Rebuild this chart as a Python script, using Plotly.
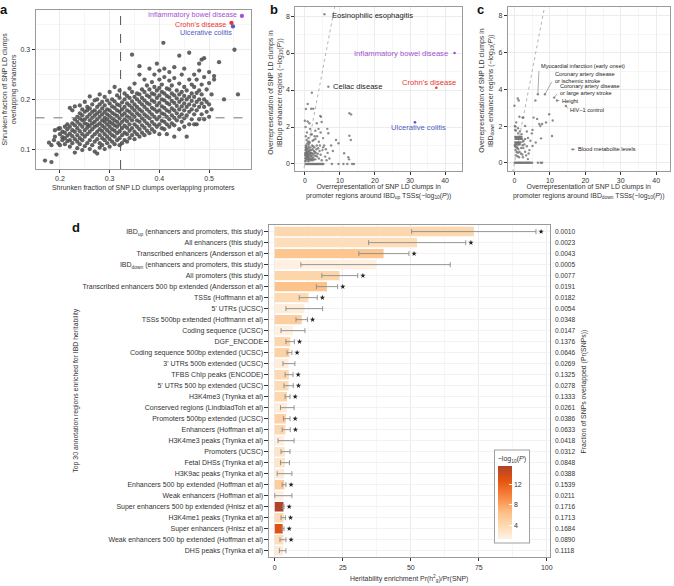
import plotly.graph_objects as go

# -----------------------------------
# DATA
# -----------------------------------

# panel a: shrunken fraction overlapping promoters (key) -> enhancers (values)
a_columns = {
    0.170: [0.077], 0.178: [0.113], 0.183: [0.074, 0.108], 0.188: [0.118],
    0.190: [0.125, 0.138], 0.193: [0.089], 0.197: [0.112, 0.141],
    0.200: [0.108, 0.130, 0.142], 0.205: [0.118, 0.135, 0.124],
    0.210: [0.110, 0.145, 0.122, 0.133], 0.215: [0.127, 0.140, 0.116, 0.150],
    0.220: [0.105, 0.118, 0.131, 0.145, 0.183], 0.225: [0.112, 0.126, 0.138, 0.152, 0.178],
    0.230: [0.093, 0.120, 0.135, 0.148, 0.160, 0.186], 0.235: [0.102, 0.115, 0.128, 0.142, 0.155, 0.165],
    0.240: [0.110, 0.122, 0.136, 0.150, 0.162, 0.172, 0.188],
    0.245: [0.098, 0.118, 0.130, 0.145, 0.158, 0.168, 0.180],
    0.250: [0.106, 0.125, 0.138, 0.152, 0.160, 0.175, 0.195],
    0.255: [0.112, 0.130, 0.143, 0.150, 0.165, 0.178, 0.185],
    0.260: [0.100, 0.118, 0.135, 0.147, 0.158, 0.170, 0.182, 0.206],
    0.265: [0.108, 0.125, 0.140, 0.152, 0.163, 0.175, 0.190],
    0.270: [0.095, 0.115, 0.130, 0.145, 0.155, 0.168, 0.178, 0.198],
    0.275: [0.091, 0.120, 0.135, 0.148, 0.160, 0.172, 0.185, 0.200],
    0.280: [0.103, 0.112, 0.128, 0.140, 0.152, 0.165, 0.176, 0.190, 0.210],
    0.285: [0.108, 0.122, 0.136, 0.147, 0.158, 0.170, 0.182, 0.195],
    0.290: [0.100, 0.118, 0.130, 0.143, 0.155, 0.163, 0.175, 0.188, 0.205],
    0.295: [0.112, 0.125, 0.138, 0.150, 0.160, 0.170, 0.180, 0.198],
    0.300: [0.105, 0.120, 0.133, 0.145, 0.155, 0.166, 0.178, 0.192, 0.215],
    0.305: [0.115, 0.128, 0.140, 0.152, 0.162, 0.173, 0.186, 0.200],
    0.310: [0.110, 0.125, 0.137, 0.148, 0.158, 0.170, 0.183, 0.196, 0.225],
    0.315: [0.118, 0.132, 0.145, 0.155, 0.167, 0.178, 0.190, 0.208],
    0.320: [0.108, 0.122, 0.136, 0.150, 0.162, 0.175, 0.188, 0.203, 0.218],
    0.325: [0.112, 0.128, 0.142, 0.155, 0.168, 0.180, 0.194],
    0.330: [0.118, 0.133, 0.147, 0.160, 0.172, 0.185, 0.200, 0.212],
    0.335: [0.115, 0.130, 0.143, 0.156, 0.166, 0.178, 0.192, 0.207],
    0.340: [0.122, 0.137, 0.150, 0.163, 0.175, 0.188, 0.203, 0.222],
    0.345: [0.128, 0.142, 0.158, 0.170, 0.183, 0.196, 0.215, 0.290],
    0.350: [0.120, 0.135, 0.150, 0.165, 0.178, 0.190, 0.205, 0.232],
    0.355: [0.130, 0.145, 0.158, 0.172, 0.185, 0.200, 0.212],
    0.360: [0.125, 0.140, 0.155, 0.168, 0.180, 0.195, 0.210, 0.250, 0.267],
    0.365: [0.133, 0.148, 0.162, 0.176, 0.190, 0.203, 0.220],
    0.370: [0.128, 0.143, 0.157, 0.170, 0.185, 0.198, 0.215, 0.240],
    0.375: [0.137, 0.152, 0.166, 0.180, 0.193, 0.208, 0.228],
    0.380: [0.132, 0.147, 0.162, 0.175, 0.190, 0.205, 0.220, 0.262],
    0.385: [0.140, 0.155, 0.170, 0.183, 0.198, 0.212, 0.235],
    0.390: [0.135, 0.150, 0.165, 0.180, 0.195, 0.210, 0.225, 0.250],
    0.395: [0.145, 0.160, 0.175, 0.188, 0.203, 0.218, 0.272],
    0.400: [0.130, 0.150, 0.165, 0.178, 0.193, 0.208, 0.223, 0.240, 0.258],
    0.405: [0.142, 0.157, 0.172, 0.186, 0.200, 0.215, 0.230],
    0.408: [0.314],
    0.410: [0.140, 0.155, 0.170, 0.183, 0.198, 0.212, 0.245, 0.262],
    0.415: [0.130, 0.150, 0.165, 0.178, 0.193, 0.207, 0.222],
    0.420: [0.145, 0.160, 0.175, 0.190, 0.204, 0.220, 0.238, 0.255],
    0.425: [0.152, 0.168, 0.182, 0.197, 0.212, 0.228],
    0.430: [0.125, 0.148, 0.163, 0.178, 0.193, 0.208, 0.243, 0.265],
    0.435: [0.158, 0.172, 0.187, 0.202, 0.218],
    0.440: [0.140, 0.165, 0.180, 0.195, 0.210, 0.232, 0.288],
    0.445: [0.155, 0.170, 0.186, 0.200, 0.215, 0.250],
    0.450: [0.145, 0.162, 0.178, 0.192, 0.207, 0.225, 0.262],
    0.455: [0.125, 0.168, 0.185, 0.200, 0.218],
    0.460: [0.150, 0.175, 0.190, 0.205, 0.240, 0.294],
    0.465: [0.160, 0.180, 0.197, 0.212, 0.230],
    0.470: [0.150, 0.170, 0.188, 0.205, 0.225, 0.250],
    0.475: [0.150, 0.178, 0.195, 0.213, 0.240],
    0.480: [0.160, 0.185, 0.200, 0.218, 0.258, 0.272],
    0.485: [0.170, 0.192, 0.210, 0.230, 0.280],
    0.490: [0.160, 0.185, 0.200, 0.245, 0.283],
    0.495: [0.175, 0.195, 0.220], 0.500: [0.165, 0.190, 0.233, 0.255],
    0.505: [0.180, 0.210], 0.510: [0.240, 0.247], 0.520: [0.275],
    0.530: [0.200], 0.551: [0.300], 0.558: [0.210],
}
a_mean_x = 0.322
a_mean_y = 0.163
hl_names = ["Inflammatory bowel disease", "Crohn's disease", "Ulcerative colitis"]
hl_colors = ["#A452D2", "#E8352E", "#4F5BC6"]
a_hl_x = [0.566, 0.545, 0.548]
a_hl_y = [0.368, 0.354, 0.347]
a_lab_x = [0.560, 0.538, 0.551]
a_lab_y = [0.3705, 0.3515, 0.3345]

# panel b: IBDup promoters vs enhancers (-log10 P)
b_points = [
    (0.2, 0), (0.5, 0), (0.8, 0), (1.1, 0), (1.4, 0), (1.7, 0), (2.0, 0), (2.3, 0), (2.6, 0),
    (2.9, 0), (3.2, 0), (3.5, 0), (3.8, 0), (4.1, 0), (4.4, 0), (4.7, 0), (5.0, 0), (5.3, 0),
    (7.7, 0), (9.6, 0), (11.0, 0), (12.1, 0), (13.5, 0), (14.0, 0),
    (0.1, 0.15), (0.3, 0.35), (0.5, 0.55), (0.2, 0.75), (0.4, 0.95), (0.6, 1.1), (0.8, 0.25),
    (1.0, 0.45), (0.9, 0.65), (1.2, 0.85), (1.1, 1.05), (1.4, 0.3), (1.5, 0.5), (1.3, 0.7),
    (1.6, 0.9), (1.8, 0.2), (1.9, 0.4), (2.0, 0.6), (2.2, 0.8), (2.1, 1.0), (2.4, 0.35),
    (2.5, 0.55), (2.6, 0.7), (2.8, 0.45), (3.0, 0.25), (3.1, 0.6), (3.3, 0.8), (3.5, 0.4),
    (3.7, 0.55), (4.0, 0.3), (4.2, 0.7), (4.5, 0.5), (4.8, 0.2), (0.2, 0.45), (0.4, 0.6),
    (0.6, 0.3), (0.7, 0.8), (1.0, 0.15), (1.2, 0.55), (1.5, 0.75), (1.7, 0.6), (2.3, 0.2),
    (2.7, 0.9), (0.3, 1.0), (0.5, 0.85), (0.1, 0.6), (0.8, 0.5), (1.3, 0.4), (1.9, 0.75),
    (2.9, 0.65), (3.4, 1.0), (0.6, 0.65), (1.0, 0.95), (1.6, 0.25), (0.15, 0.3), (0.35, 0.2),
    (0.7, 0.4), (1.1, 0.7), (2.0, 0.3), (2.4, 0.95), (3.8, 0.85), (4.3, 1.0), (5.0, 0.75),
    (0.45, 0.7), (0.9, 1.2), (1.4, 1.15), (0.25, 0.9), (0.05, 0.5), (0.55, 0.45), (1.25, 0.2),
    (1.75, 0.45), (2.15, 0.5), (2.55, 0.25), (3.2, 0.45), (0.85, 0.35), (0.65, 0.55),
    (0.35, 0.8), (1.45, 0.6), (1.05, 0.3),
    (0.3, 1.5), (0.6, 1.7), (1.0, 1.4), (1.5, 1.9), (2.0, 1.6), (2.5, 1.3), (3.0, 1.8),
    (3.5, 1.5), (4.0, 1.2), (4.5, 1.7), (5.2, 1.4), (0.2, 2.0), (0.8, 2.3), (1.3, 2.2),
    (3.4, 2.2), (4.8, 2.27), (0.0, 2.34), (1.2, 1.2), (2.2, 1.25), (0.5, 1.3), (3.0, 1.35),
    (5.5, 1.0), (6.0, 0.8), (6.5, 0.6), (5.8, 0.4), (7.0, 0.3), (6.4, 1.9), (6.7, 1.66),
    (8.9, 1.3), (9.6, 1.12), (11.2, 0.58), (12.4, 0.36), (12.6, 0.25), (12.7, 1.53),
    (13.1, 1.3), (12.7, 2.74), (13.2, 2.68), (4.4, 2.6), (4.6, 2.55), (0.3, 2.97), (1.8, 2.99),
    (2.4, 2.99), (0.8, 3.24), (2.0, 3.85), (7.5, 1.0), (8.0, 0.7), (5.2, 0.9), (6.2, 0.2),
    (3.9, 1.9), (2.8, 1.5), (1.7, 1.6),
    (5.6, 8.1), (6.7, 4.18),
]
b_hl_x = [42.7, 37.5, 31.4]
b_hl_y = [6.0, 4.12, 2.25]
b_text = ["Eosinophilic esophagitis", "Celiac disease"] + hl_names
b_text_x = [7.2, 7.5, 41.3, 35.3, 32.3]
b_text_y = [8.04, 4.2, 5.98, 4.39, 1.96]
b_text_anchor = ["left", "left", "right", "center", "center"]
b_text_color = ["#222222", "#222222"] + hl_colors

# panel c: IBDdown promoters vs enhancers (-log10 P)
c_points = [
    (0.1, 0), (0.4, 0), (0.7, 0), (1.0, 0), (1.3, 0), (1.6, 0), (1.9, 0), (2.2, 0), (2.5, 0),
    (2.8, 0), (3.1, 0), (3.4, 0), (3.7, 0), (4.0, 0), (4.3, 0), (4.6, 0), (5.0, 0),
    (6.6, 0), (7.4, 0), (7.8, 0),
    (0.2, 1.4), (0.5, 1.4), (0.8, 1.4), (1.1, 1.4), (1.4, 1.4), (1.7, 1.4), (2.0, 1.4),
    (0.3, 1.3), (0.6, 1.3), (0.9, 1.3), (1.2, 1.3), (1.5, 1.3), (1.8, 1.3), (2.1, 1.3),
    (0.2, 1.1), (0.5, 1.1), (0.8, 1.1), (1.1, 1.1), (1.4, 1.1), (1.7, 1.1),
    (0.3, 1.0), (0.6, 1.0), (0.9, 1.0), (1.2, 1.0), (1.5, 1.0), (0.2, 0.9), (0.5, 0.85),
    (0.8, 0.8), (1.1, 0.75), (0.3, 0.7), (0.6, 0.6), (1.0, 0.55), (1.4, 0.6), (1.8, 0.5),
    (2.2, 0.45), (0.4, 0.4), (0.9, 0.35), (1.3, 0.3), (2.5, 0.8), (2.8, 1.0), (3.0, 0.6),
    (3.3, 0.4), (2.6, 1.2), (2.3, 0.95), (3.5, 0.9), (4.0, 0.5), (1.0, 1.6), (0.4, 1.75),
    (1.5, 1.7), (2.0, 1.55), (2.3, 1.15), (0.1, 0.95), (1.9, 0.8), (3.0, 1.3), (2.4, 0.3),
    (3.8, 0.2),
    (0.0, 3.11), (0.93, 3.5), (1.2, 3.39), (5.9, 3.39), (2.5, 2.46), (5.4, 2.46), (6.4, 2.39),
    (9.8, 2.64), (10.8, 2.3), (7.0, 2.11), (7.8, 2.11), (7.3, 2.0), (8.9, 2.19), (5.1, 1.79),
    (4.9, 1.6), (7.5, 1.33), (10.6, 1.46), (5.1, 0.91), (4.2, 0.69), (0.3, 1.97), (0.2, 1.79),
    (1.0, 1.88), (1.4, 2.51), (2.3, 2.46), (0.1, 2.0), (0.5, 2.2), (3.5, 1.7), (3.0, 2.0),
    (4.5, 1.2), (6.0, 1.1), (3.8, 1.35),
    (6.6, 3.73), (8.6, 3.73), (11.2, 3.55), (12.0, 3.39), (14.5, 3.1), (16.4, 0.73),
]
c_text = ["Myocardial infarction (early onset)", "Coronary artery disease<br>or ischemic stroke",
          "Coronary artery disease<br>or large artery stroke", "Height", "HIV\u22121 control",
          "Blood metabolite levels"]
c_pt_x = [6.6, 8.6, 11.2, 12.0, 14.5, 16.4]
c_pt_y = [3.73, 3.73, 3.55, 3.39, 3.1, 0.73]
c_text_x = [6.8, 10.8, 12.2, 12.9, 15.2, 17.3]
c_text_y = [5.28, 4.66, 3.97, 3.39, 2.9, 0.73]
c_lead_x = [6.9, 10.5, 12.0, 12.7, 15.1, 17.1]
c_lead_y = [5.0, 4.4, 3.75, 3.39, 2.95, 0.73]

# panel d: heritability enrichment
d_labels = [
    "IBD<sub>up</sub> (enhancers and promoters, this study)",
    "All enhancers (this study)",
    "Transcribed enhancers (Andersson et al)",
    "IBD<sub>down</sub> (enhancers and promoters, this study)",
    "All promoters (this study)",
    "Transcribed enhancers 500 bp extended (Andersson et al)",
    "TSSs (Hoffmann et al)",
    "5' UTRs (UCSC)",
    "TSSs 500bp extended (Hoffmann et al)",
    "Coding sequence (UCSC)",
    "DGF_ENCODE",
    "Coding sequence 500bp extended (UCSC)",
    "3' UTRs 500b extended (UCSC)",
    "TFBS ChIp peaks (ENCODE)",
    "5' UTRs 500 bp extended (UCSC)",
    "H3K4me3 (Trynka et al)",
    "Conserved regions (LindbladToh et al)",
    "Promoters 500bp extended (UCSC)",
    "Enhancers (Hoffman et al)",
    "H3K4me3 peaks (Trynka et al)",
    "Promoters (UCSC)",
    "Fetal DHSs (Trynka et al)",
    "H3K9ac peaks (Trynka et al)",
    "Enhancers 500 bp extended (Hoffman et al)",
    "Weak enhancers (Hoffman et al)",
    "Super enhancers 500 bp extended (Hnisz et al)",
    "H3K4me1 peaks (Trynka et al)",
    "Super enhancers (Hnisz et al)",
    "Weak enhancers 500 bp extended (Hoffman et al)",
    "DHS peaks (Trynka et al)",
]
d_enrich = [73.2, 52.3, 40.0, 37.2, 23.8, 19.2, 12.3, 10.9, 9.9, 6.7, 5.7, 5.4, 5.0, 5.2, 5.1,
            4.5, 4.5, 4.1, 3.9, 3.5, 3.7, 3.7, 3.5, 3.5, 3.3, 3.2, 3.3, 2.9, 3.2, 3.0]
d_low = [50.3, 34.5, 30.9, 9.6, 17.3, 15.3, 9.0, 4.1, 7.8, 2.3, 4.1, 4.5, 3.0, 3.8, 3.4,
         3.8, 2.1, 3.2, 2.7, 1.2, 2.3, 2.1, 0.9, 2.7, 0.0, 2.9, 2.3, 2.6, 1.9, 1.7]
d_high = [96.0, 70.2, 49.3, 64.5, 30.5, 23.1, 15.6, 17.6, 12.0, 11.1, 7.2, 6.3, 7.4, 6.7, 6.8,
          5.6, 7.1, 5.6, 5.7, 7.1, 5.6, 5.4, 6.3, 4.1, 6.3, 3.4, 3.9, 3.4, 4.1, 4.1]
d_logp = [4.2, 3.5, 6.0, 1.5, 4.4, 6.2, 3.9, 1.8, 5.0, 1.5, 4.3, 4.8, 1.8, 4.0, 3.8,
          4.2, 1.9, 4.8, 4.1, 1.5, 2.8, 2.8, 2.0, 5.2, 1.3, 15.5, 3.8, 13.0, 3.5, 2.3]
d_sig = [1, 1, 1, 0, 1, 1, 1, 0, 1, 0, 1, 1, 0, 1, 1, 1, 0, 1, 1, 0, 0, 0, 0, 1, 0, 1, 1, 1, 1, 0]
d_frac = ["0.0010", "0.0023", "0.0043", "0.0005", "0.0077", "0.0191", "0.0182", "0.0054",
          "0.0348", "0.0147", "0.1376", "0.0646", "0.0269", "0.1325", "0.0278", "0.1333",
          "0.0261", "0.0386", "0.0633", "0.0418", "0.0312", "0.0848", "0.0388", "0.1539",
          "0.0211", "0.1716", "0.1713", "0.1684", "0.0890", "0.1118"]

# -----------------------------------
# META SETTINGS
# -----------------------------------

W, H = 674, 586
font_family = "Liberation Sans, Arial, sans-serif"
text_color = "#333333"
title_size = 6.9
orange_scale = [[0.0, "#FFF2E5"], [0.18, "#FDDAB3"], [0.35, "#FDC28A"],
                [0.55, "#F98E48"], [0.8, "#E5540F"], [1.0, "#B0432A"]]


def px_x(p):
    return p / W


def px_y(p):
    return 1 - p / H


def axis_style(**kw):
    base = dict(showline=True, mirror=True, linecolor="#9a9a9a", linewidth=1,
                ticks="outside", ticklen=3, tickcolor="#333333", tickwidth=1,
                tickfont=dict(size=7, color=text_color), showgrid=True,
                gridcolor="#ececec", gridwidth=0.6, zeroline=False)
    base.update(kw)
    return base


# -----------------------------------
# FIGURE
# -----------------------------------

fig = go.Figure()

# a
a_x = [x for x, ys in a_columns.items() for _ in ys]
a_y = [y for ys in a_columns.values() for y in ys]
fig.add_trace(go.Scatter(x=a_x, y=a_y, mode="markers", xaxis="x", yaxis="y",
                         marker=dict(color="#4d4d4d", size=4.3, opacity=0.88), hoverinfo="skip"))
fig.add_trace(go.Scatter(x=a_hl_x, y=a_hl_y, mode="markers", xaxis="x", yaxis="y",
                         marker=dict(color=hl_colors, size=4.3)))
fig.add_shape(type="line", xref="x", yref="y domain", x0=a_mean_x, x1=a_mean_x, y0=0, y1=1,
              line=dict(color="#555555", width=1, dash="dash"))
fig.add_shape(type="line", xref="x domain", yref="y", x0=0, x1=1, y0=a_mean_y, y1=a_mean_y,
              line=dict(color="#777777", width=1, dash="dash"))
for name, col, lx, ly in zip(hl_names, hl_colors, a_lab_x, a_lab_y):
    fig.add_annotation(x=lx, y=ly, xref="x", yref="y", text=name, showarrow=False,
                       xanchor="right", font=dict(size=7.2, color=col))

# b and c
identity = [-5, 50]
for pts, ax in [(b_points, "2"), (c_points, "3")]:
    fig.add_trace(go.Scatter(x=identity, y=identity, mode="lines", xaxis="x" + ax, yaxis="y" + ax,
                             line=dict(color="#b4b4b4", width=1, dash="dot"), hoverinfo="skip"))
    fig.add_trace(go.Scatter(x=[p[0] for p in pts], y=[p[1] for p in pts], mode="markers",
                             xaxis="x" + ax, yaxis="y" + ax,
                             marker=dict(color="#707070", size=2.4, opacity=0.8)))
fig.add_trace(go.Scatter(x=b_hl_x, y=b_hl_y, mode="markers", xaxis="x2", yaxis="y2",
                         marker=dict(color=hl_colors, size=2.6)))
for t, tx, ty, anc, col in zip(b_text, b_text_x, b_text_y, b_text_anchor, b_text_color):
    fig.add_annotation(x=tx, y=ty, xref="x2", yref="y2", text=t, showarrow=False,
                       xanchor=anc, font=dict(size=7.6, color=col))

lead_x, lead_y = [], []
for x0, y0, x1, y1 in zip(c_pt_x, c_pt_y, c_lead_x, c_lead_y):
    lead_x += [x0, x1, None]
    lead_y += [y0, y1, None]
fig.add_trace(go.Scatter(x=lead_x, y=lead_y, mode="lines", xaxis="x3", yaxis="y3",
                         line=dict(color="#888888", width=0.7), hoverinfo="skip"))
for t, tx, ty in zip(c_text, c_text_x, c_text_y):
    fig.add_annotation(x=tx, y=ty, xref="x3", yref="y3", text=t, showarrow=False,
                       xanchor="left", align="left", font=dict(size=5.6, color="#222222"))

# d
fig.add_trace(go.Bar(
    y=d_labels, x=d_enrich, orientation="h", xaxis="x4", yaxis="y4", width=0.86,
    marker=dict(color=d_logp, colorscale=orange_scale, cmin=1.3, cmax=15.5, line=dict(width=0),
                showscale=True,
                colorbar=dict(title=dict(text="\u2212log<sub>10</sub>(<i>P</i>)", side="top",
                                         font=dict(size=7, color=text_color)),
                              x=px_x(497), xanchor="left", y=px_y(450), yanchor="top",
                              len=92, lenmode="pixels", thickness=14, tickvals=[4, 8, 12],
                              ticks="inside", tickcolor="white", ticklen=3,
                              tickfont=dict(size=7, color=text_color), outlinewidth=0,
                              bgcolor="white", bordercolor="#a0a0a0", borderwidth=1,
                              xpad=3, ypad=3)),
    error_x=dict(type="data", symmetric=False,
                 array=[h - v for h, v in zip(d_high, d_enrich)],
                 arrayminus=[v - l for v, l in zip(d_enrich, d_low)],
                 color="#8a8a8a", thickness=0.9, width=2.5),
))
star_x = [h + 1.9 for h, s in zip(d_high, d_sig) if s]
star_y = [lab for lab, s in zip(d_labels, d_sig) if s]
fig.add_trace(go.Scatter(x=star_x, y=star_y, mode="markers", xaxis="x4", yaxis="y4",
                         marker=dict(symbol="star", size=4, color="#222222"), hoverinfo="skip"))
for lab, fr in zip(d_labels, d_frac):
    fig.add_annotation(x=1.012, y=lab, xref="x4 domain", yref="y4", text=fr, showarrow=False,
                       xanchor="left", font=dict(size=6.6, color=text_color))

# -----------------------------------
# LAYOUT
# -----------------------------------

fig.update_layout(
    width=W, height=H, margin=dict(l=0, r=0, t=0, b=0), showlegend=False,
    plot_bgcolor="white", paper_bgcolor="white", font=dict(family=font_family, color=text_color),
    xaxis=axis_style(domain=[px_x(35.7), px_x(252)], range=[0.151, 0.584], tick0=0.2, dtick=0.1,
                     anchor="y", minor=dict(dtick=0.05, showgrid=True, gridcolor="#f6f6f6")),
    yaxis=axis_style(domain=[px_y(169), px_y(10)], range=[0.06, 0.38], tick0=0.1, dtick=0.1,
                     anchor="x", minor=dict(dtick=0.05, showgrid=True, gridcolor="#f6f6f6")),
    xaxis2=axis_style(domain=[px_x(296.7), px_x(464)], range=[-2.7, 44.8], tick0=0, dtick=10,
                      anchor="y2", minor=dict(dtick=5, showgrid=True, gridcolor="#f6f6f6")),
    yaxis2=axis_style(domain=[px_y(171), px_y(7)], range=[-0.38, 8.49], tick0=0, dtick=2,
                      anchor="x2", minor=dict(dtick=1, showgrid=True, gridcolor="#f6f6f6")),
    xaxis3=axis_style(domain=[px_x(510), px_x(673)], range=[-1.9, 43.9], tick0=0, dtick=10,
                      anchor="y3", minor=dict(dtick=5, showgrid=True, gridcolor="#f6f6f6")),
    yaxis3=axis_style(domain=[px_y(171), px_y(7)], range=[-0.45, 8.49], tick0=0, dtick=2,
                      anchor="x3", minor=dict(dtick=1, showgrid=True, gridcolor="#f6f6f6")),
    xaxis4=axis_style(domain=[px_x(270.7), px_x(552)], range=[-1.94, 101], tickvals=[0, 25, 50, 75, 100],
                      anchor="y4", minor=dict(dtick=12.5, showgrid=True, gridcolor="#f6f6f6")),
    yaxis4=axis_style(domain=[px_y(557.3), px_y(225)], type="category", categoryorder="array",
                      categoryarray=d_labels, range=[29.6, -0.6], anchor="x4", ticklen=4,
                      tickfont=dict(size=7, color=text_color), gridcolor="#f2f2f2"),
)

# panel letters and axis titles: (text, x px, y px, angle, size, yanchor)
titles = [
    ("<b>a</b>", 4, 0, 0, 13, "top"),
    ("<b>b</b>", 275, 0, 0, 13, "top"),
    ("<b>c</b>", 483, 0, 0, 13, "top"),
    ("<b>d</b>", 76, 218, 0, 13, "top"),
    ("Shrunken fraction of SNP LD clumps overlapping promoters", 144, 188, 0, title_size, "middle"),
    ("Shrunken fraction of SNP LD clumps<br>overlapping enhancers", 9.5, 89, -90, title_size, "middle"),
    ("Overrepresentation of SNP LD clumps in<br>promoter regions around IBD<sub>up</sub> "
     "TSSs(\u2212log<sub>10</sub>(<i>P</i>))", 380, 181, 0, title_size, "top"),
    ("Overrepresentation of SNP LD clumps in<br>IBDup enhancer regions "
     "(\u2212log<sub>10</sub>(<i>P</i>))", 276, 92, -90, title_size, "middle"),
    ("Overrepresentation of SNP LD clumps in<br>promoter regions around IBD<sub>down</sub> "
     "TSSs(\u2212log<sub>10</sub>(<i>P</i>))", 591.5, 181, 0, title_size, "top"),
    ("Overrepresentation of SNP LD clumps in<br>IBD<sub>down</sub> enhancer regions "
     "(\u2212log<sub>10</sub>(<i>P</i>))", 488, 90, -90, title_size, "middle"),
    ("Heritability enrichment Pr(h<sup>2</sup><sub>g</sub>)/Pr(SNP)", 411, 572, 0, title_size, "top"),
    ("Top 30 annotation regions enriched for IBD heritability", 76, 391, -90, title_size, "middle"),
    ("Fraction of SNPs overlapped (Pr(SNPs))", 587, 391, -90, title_size, "middle"),
]
for text, x, y, ang, size, yanc in titles:
    fig.add_annotation(x=px_x(x), y=px_y(y), xref="paper", yref="paper", text=text,
                       showarrow=False, textangle=ang, xanchor="center", yanchor=yanc,
                       font=dict(size=size, color="#111111" if size > 10 else text_color))

# browser default body margin would shift the figure by 8px; hide the modebar
fig.write_html("out.html", config={"displayModeBar": False},
               post_script="document.body.style.margin='0px';")
